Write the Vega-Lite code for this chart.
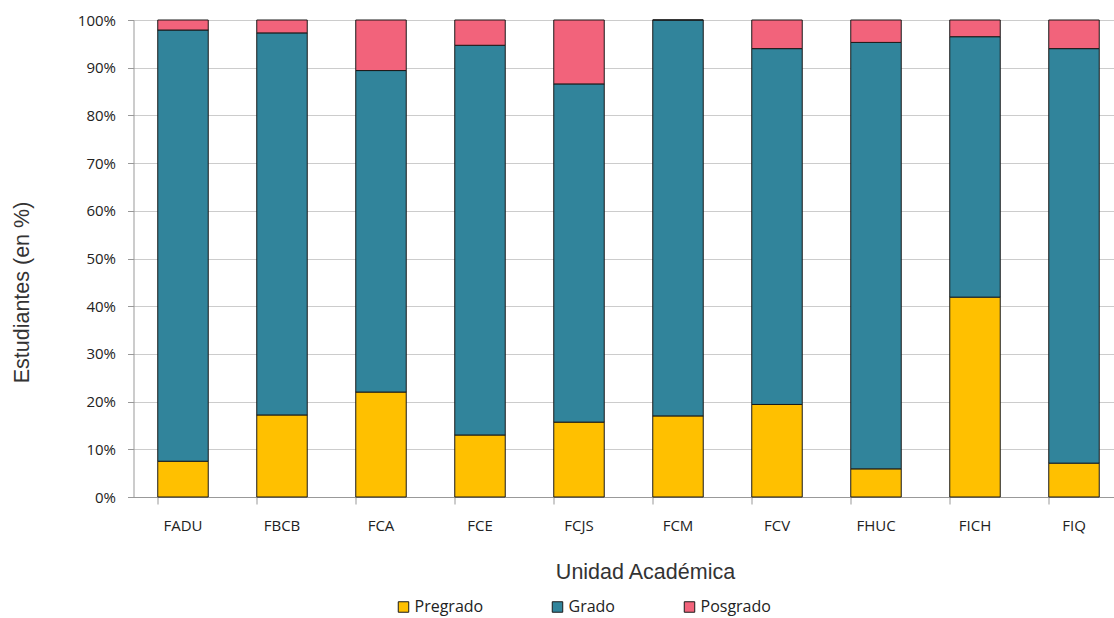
{
  "$schema": "https://vega.github.io/schema/vega-lite/v6.json",
  "autosize": "none",
  "width": 990,
  "height": 477,
  "padding": {"left": 133.5, "top": 20, "right": 0, "bottom": 121},
  "background": "white",
  "config": {
    "view": {"stroke": null},
    "font": "Open Sans"
  },
  "data": {
    "values": [
      {"unidad": "FADU", "nivel": "Pregrado", "orden": 1, "valor": 7.5},
      {"unidad": "FADU", "nivel": "Grado", "orden": 2, "valor": 90.4},
      {"unidad": "FADU", "nivel": "Posgrado", "orden": 3, "valor": 2.1},
      {"unidad": "FBCB", "nivel": "Pregrado", "orden": 1, "valor": 17.2},
      {"unidad": "FBCB", "nivel": "Grado", "orden": 2, "valor": 80.1},
      {"unidad": "FBCB", "nivel": "Posgrado", "orden": 3, "valor": 2.7},
      {"unidad": "FCA", "nivel": "Pregrado", "orden": 1, "valor": 22.0},
      {"unidad": "FCA", "nivel": "Grado", "orden": 2, "valor": 67.4},
      {"unidad": "FCA", "nivel": "Posgrado", "orden": 3, "valor": 10.6},
      {"unidad": "FCE", "nivel": "Pregrado", "orden": 1, "valor": 13.0},
      {"unidad": "FCE", "nivel": "Grado", "orden": 2, "valor": 81.7},
      {"unidad": "FCE", "nivel": "Posgrado", "orden": 3, "valor": 5.3},
      {"unidad": "FCJS", "nivel": "Pregrado", "orden": 1, "valor": 15.7},
      {"unidad": "FCJS", "nivel": "Grado", "orden": 2, "valor": 70.9},
      {"unidad": "FCJS", "nivel": "Posgrado", "orden": 3, "valor": 13.4},
      {"unidad": "FCM", "nivel": "Pregrado", "orden": 1, "valor": 17.0},
      {"unidad": "FCM", "nivel": "Grado", "orden": 2, "valor": 83.0},
      {"unidad": "FCM", "nivel": "Posgrado", "orden": 3, "valor": 0.0},
      {"unidad": "FCV", "nivel": "Pregrado", "orden": 1, "valor": 19.4},
      {"unidad": "FCV", "nivel": "Grado", "orden": 2, "valor": 74.6},
      {"unidad": "FCV", "nivel": "Posgrado", "orden": 3, "valor": 6.0},
      {"unidad": "FHUC", "nivel": "Pregrado", "orden": 1, "valor": 5.9},
      {"unidad": "FHUC", "nivel": "Grado", "orden": 2, "valor": 89.4},
      {"unidad": "FHUC", "nivel": "Posgrado", "orden": 3, "valor": 4.7},
      {"unidad": "FICH", "nivel": "Pregrado", "orden": 1, "valor": 41.9},
      {"unidad": "FICH", "nivel": "Grado", "orden": 2, "valor": 54.6},
      {"unidad": "FICH", "nivel": "Posgrado", "orden": 3, "valor": 3.5},
      {"unidad": "FIQ", "nivel": "Pregrado", "orden": 1, "valor": 7.1},
      {"unidad": "FIQ", "nivel": "Grado", "orden": 2, "valor": 86.9},
      {"unidad": "FIQ", "nivel": "Posgrado", "orden": 3, "valor": 6.0}
    ]
  },
  "mark": {"type": "bar", "stroke": "#1a1a1a", "strokeWidth": 1},
  "encoding": {
    "x": {
      "field": "unidad",
      "type": "nominal",
      "sort": null,
      "scale": {"paddingInner": 0.49, "paddingOuter": 0.245},
      "axis": {
        "title": "Unidad Académica",
        "titleFont": "Liberation Sans",
        "titleFontSize": 21.5,
        "titleFontWeight": "normal",
        "titleColor": "#333333",
        "titleX": 511.5,
        "titleY": 75,
        "titleBaseline": "middle",
        "titleAnchor": null,
        "labelAngle": 0,
        "labelFont": "Open Sans",
        "labelFontSize": 15,
        "labelColor": "#222222",
        "labelPadding": 14,
        "bandPosition": 0,
        "tickSize": 7,
        "tickColor": "#999999",
        "domainColor": "#999999",
        "grid": false
      }
    },
    "y": {
      "field": "valor",
      "type": "quantitative",
      "stack": "zero",
      "scale": {"domain": [0, 100], "nice": false},
      "axis": {
        "title": "Estudiantes (en %)",
        "titleFont": "Liberation Sans",
        "titleFontSize": 21.5,
        "titleFontWeight": "normal",
        "titleColor": "#333333",
        "titleX": -111,
        "titleY": 272,
        "titleAngle": -90,
        "titleAlign": "center",
        "titleBaseline": "middle",
        "values": [0, 10, 20, 30, 40, 50, 60, 70, 80, 90, 100],
        "labelExpr": "datum.value + '%'",
        "labelFont": "Open Sans",
        "labelFontSize": 15,
        "labelColor": "#222222",
        "labelPadding": 12,
        "tickSize": 6,
        "tickColor": "#999999",
        "domainColor": "#999999",
        "gridColor": "#cccccc",
        "gridWidth": 1
      }
    },
    "color": {
      "field": "nivel",
      "type": "nominal",
      "scale": {
        "domain": ["Pregrado", "Grado", "Posgrado"],
        "range": ["#FFC000", "#31849B", "#F2637B"]
      },
      "legend": {
        "title": null,
        "orient": "none",
        "direction": "horizontal",
        "legendX": 262,
        "legendY": 579,
        "symbolType": "square",
        "symbolSize": 110,
        "symbolStrokeColor": "#1a1a1a",
        "symbolStrokeWidth": 1,
        "symbolOpacity": 1,
        "labelFont": "Open Sans",
        "labelFontSize": 16,
        "labelColor": "#222222",
        "labelOffset": 3,
        "columnPadding": 66
      }
    },
    "order": {"field": "orden", "type": "quantitative"}
  }
}
